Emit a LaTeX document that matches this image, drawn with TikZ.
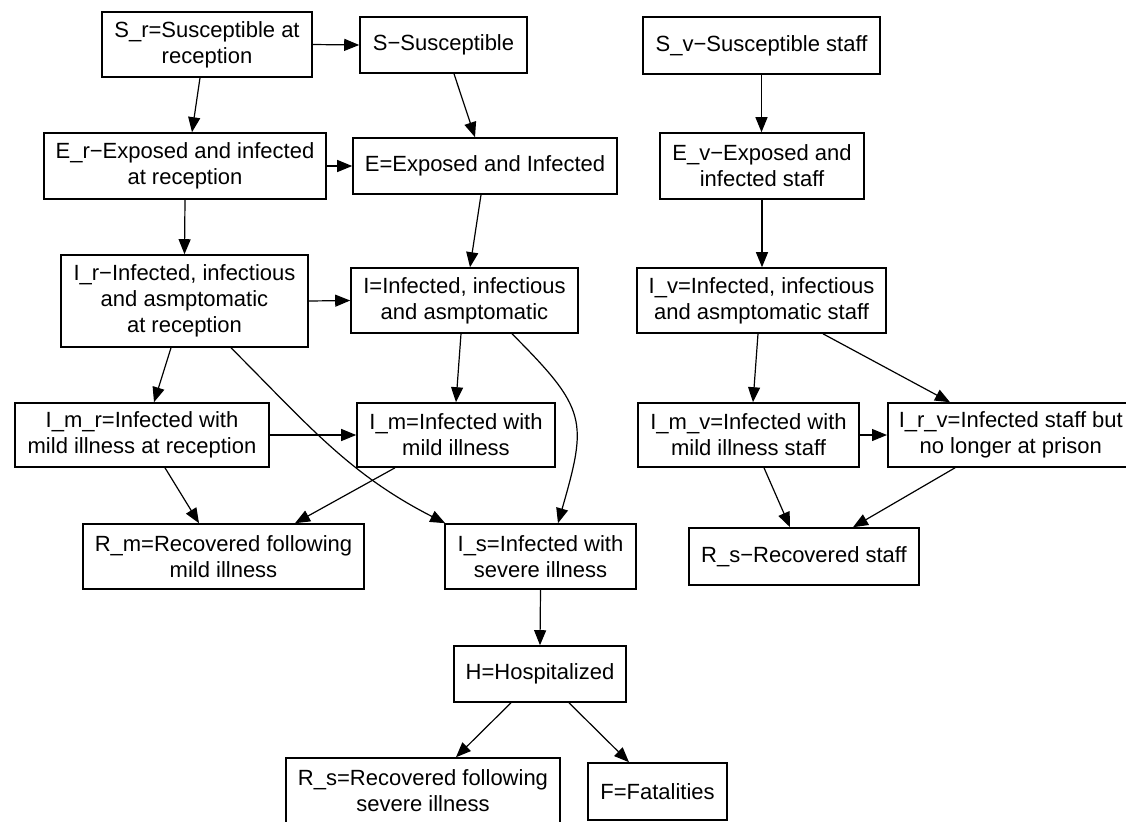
\documentclass[tikz,border=0pt]{standalone}
\usepackage{fontspec}
\setmainfont{Liberation Sans}
\usepackage{tikz}
\usetikzlibrary{arrows.meta}

\begin{document}
\begin{tikzpicture}[x=0.5pt, y=0.5pt,
    box/.style={draw, line width=0.8pt, inner sep=0pt, align=center,
        font=\fontsize{11}{13}\selectfont},
    flow/.style={-{Triangle[length=7.5pt,width=6pt]}, line width=0.6pt}]
    \useasboundingbox (0,0) rectangle (1126,-821);

    \node[box, minimum width=105pt, minimum height=32.5pt] (Sr) at (207,-44.5) {S\_r=Susceptible at\\reception};
    \node[box, minimum width=83.5pt, minimum height=28pt] (S) at (443.5,-45) {S−Susceptible};
    \node[box, minimum width=118.5pt, minimum height=28.5pt] (Sv) at (761.5,-45.5) {S\_v−Susceptible staff};

    \node[box, minimum width=141pt, minimum height=33pt] (Er) at (185,-166) {E\_r−Exposed and infected\\at reception};
    \node[box, minimum width=132pt, minimum height=28pt] (E) at (485,-166) {E=Exposed and Infected};
    \node[box, minimum width=102pt, minimum height=33pt] (Ev) at (762,-166) {E\_v−Exposed and\\infected staff};

    \node[box, minimum width=123.5pt, minimum height=46pt] (Ir) at (184.5,-301) {I\_r−Infected, infectious\\and asmptomatic\\at reception};
    \node[box, minimum width=113.5pt, minimum height=32.5pt] (I) at (464.5,-300.5) {I=Infected, infectious\\and asmptomatic};
    \node[box, minimum width=124.5pt, minimum height=32.5pt] (Iv) at (761.5,-300.5) {I\_v=Infected, infectious\\and asmptomatic staff};

    \node[box, minimum width=127pt, minimum height=32pt] (Imr) at (142,-435) {I\_m\_r=Infected with\\mild illness at reception};
    \node[box, minimum width=99pt, minimum height=32pt] (Im) at (456,-435) {I\_m=Infected with\\mild illness};
    \node[box, minimum width=110.5pt, minimum height=32pt] (Imv) at (748.5,-435) {I\_m\_v=Infected with\\mild illness staff};
    \node[box, minimum width=123pt, minimum height=32pt, anchor=west] (Irv) at (887,-435) {I\_r\_v=Infected staff but\\no longer at prison};

    \node[box, minimum width=140.5pt, minimum height=32.5pt] (Rm) at (223.5,-556.5) {R\_m=Recovered following\\mild illness};
    \node[box, minimum width=95.5pt, minimum height=32.5pt] (Is) at (540.5,-556.5) {I\_s=Infected with\\severe illness};
    \node[box, minimum width=115pt, minimum height=28.5pt] (Rsv) at (804,-556.5) {R\_s−Recovered staff};

    \node[box, minimum width=86pt, minimum height=28pt] (H) at (540,-674) {H=Hospitalized};
    \node[box, minimum width=137pt, minimum height=32.5pt] (Rs) at (423,-790.5) {R\_s=Recovered following\\severe illness};
    \node[box, minimum width=69.5pt, minimum height=28.5pt] (F) at (657.5,-791.5) {F=Fatalities};

    \draw[flow] (Sr.east) -- (S.west);
    \draw[flow] ([xshift=-3.5pt]Sr.south) -- ([xshift=3.5pt]Er.north);
    \draw[flow] ([xshift=5.25pt]S.south) -- ([xshift=-5pt]E.north);
    \draw[flow] (Er.east) -- (E.west);
    \draw[flow] (Er.south) -- (Ir.north);
    \draw[flow] ([xshift=-2pt]E.south) -- ([xshift=2.75pt]I.north);
    \draw[flow] (Sv.south) -- (Sv.south |- Ev.north);
    \draw[flow] (Ev.south) -- (Ev.south |- Iv.north);

    \draw[flow] (Ir.east) -- (I.west);
    \draw[flow] ([xshift=-6.75pt]Ir.south) -- ([xshift=6pt]Imr.north);
    \draw[flow] ([xshift=23.25pt]Ir.south) to[out=-45, in=153] ([xshift=0.5pt]Is.north west);
    \draw[flow] ([xshift=-1.75pt]I.south) -- (Im.north);
    \draw[flow] ([xshift=23.75pt]I.south) to[out=-45, in=74, looseness=1.4] ([xshift=8.75pt]Is.north);
    \draw[flow] ([xshift=-1.75pt]Iv.south) -- ([xshift=2.25pt]Imv.north);
    \draw[flow] ([xshift=30.75pt]Iv.south) -- ([xshift=31.5pt]Irv.north west);

    \draw[flow] (Imr.east) -- (Im.west);
    \draw[flow] ([xshift=11.5pt]Imr.south) -- ([xshift=-12.25pt]Rm.north);
    \draw[flow] ([xshift=-30.5pt]Im.south) -- ([xshift=35.75pt]Rm.north);
    \draw[flow] (Imv.east) -- (Irv.west);
    \draw[flow] ([xshift=7.75pt]Imv.south) -- ([xshift=-7pt]Rsv.north);
    \draw[flow] ([xshift=34pt]Irv.south west) -- ([xshift=24.5pt]Rsv.north);

    \draw[flow] (Is.south) -- (H.north);
    \draw[flow] ([xshift=-14.5pt]H.south) -- ([xshift=16.5pt]Rs.north);
    \draw[flow] ([xshift=14.5pt]H.south) -- ([xshift=-14.25pt]F.north);
\end{tikzpicture}
\end{document}
